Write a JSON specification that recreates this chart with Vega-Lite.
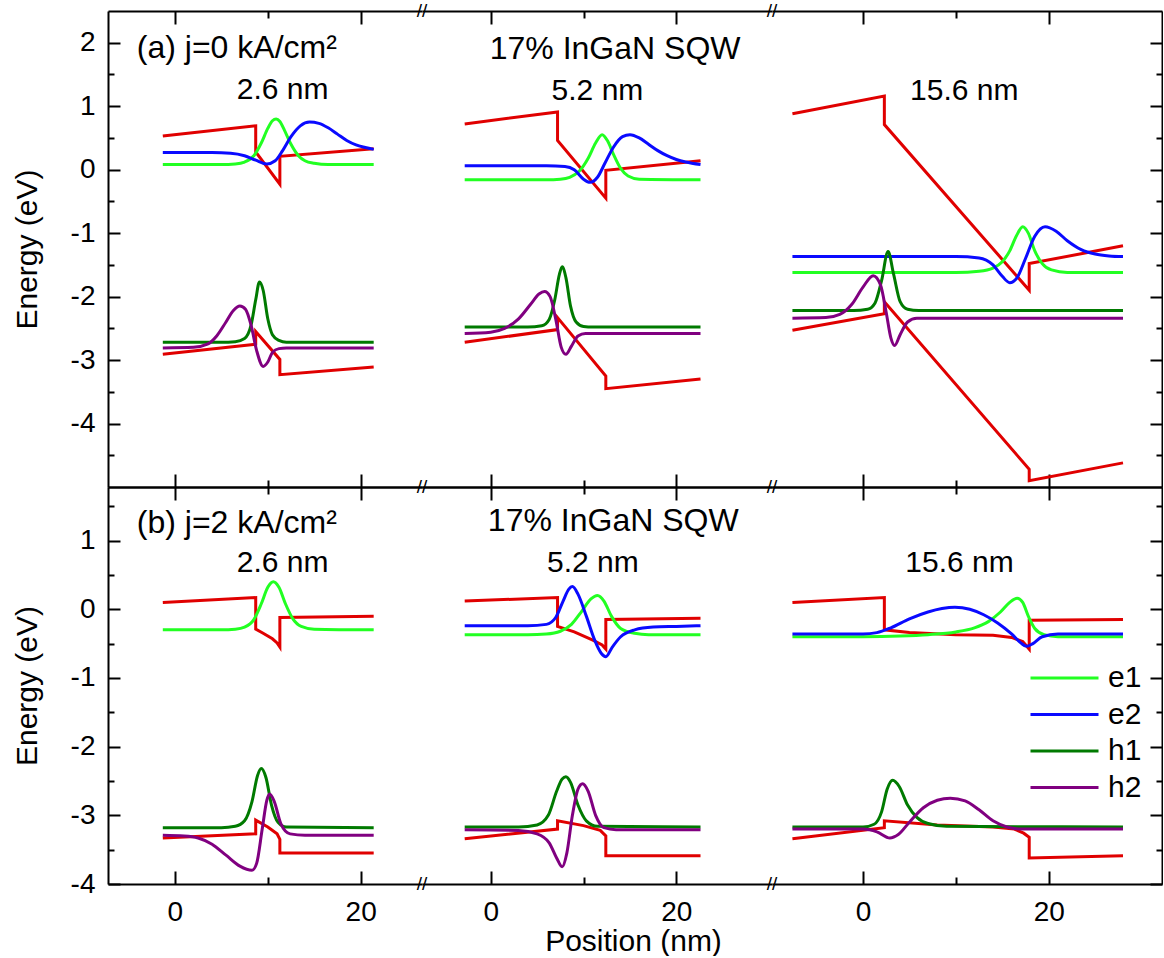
{
"$schema":"https://vega.github.io/schema/vega-lite/v6.json",
"padding":{"left":12,"top":2,"right":0,"bottom":0},
"bounds":"flush",
"spacing":0,
"columns":3,
"config":{"font":"Liberation Sans","view":{"stroke":null},
"axis":{"domainColor":"black","domainWidth":2,"tickColor":"black","tickWidth":2,"labelFontSize":28,"labelColor":"black","titleFontSize":30,"titleFontWeight":"normal","titleColor":"black","grid":false,"labelFont":"Liberation Sans","titleFont":"Liberation Sans","labelFlush":false},
"text":{"color":"black","font":"Liberation Sans"}},
"datasets":{
"c":[
{"p":"A1","s":"CB","x":-1.3,"y":0.53},{"p":"A1","s":"CB","x":8.7,"y":0.69},{"p":"A1","s":"CB","x":8.7,"y":0.28},{"p":"A1","s":"CB","x":11.3,"y":-0.23},{"p":"A1","s":"CB","x":11.3,"y":0.21},{"p":"A1","s":"CB","x":21.4,"y":0.33},
{"p":"A1","s":"VB","x":-1.3,"y":-2.91},{"p":"A1","s":"VB","x":8.7,"y":-2.75},{"p":"A1","s":"VB","x":8.7,"y":-2.55},{"p":"A1","s":"VB","x":11.3,"y":-2.99},{"p":"A1","s":"VB","x":11.3,"y":-3.23},{"p":"A1","s":"VB","x":21.4,"y":-3.11},
{"p":"A1","s":"e1","x":-1.3,"y":0.08},{"p":"A1","s":"e1","x":5,"y":0.08},{"p":"A1","s":"e1","x":6.5,"y":0.09},{"p":"A1","s":"e1","x":7.5,"y":0.12},{"p":"A1","s":"e1","x":8.5,"y":0.22},{"p":"A1","s":"e1","x":9.3,"y":0.42},{"p":"A1","s":"e1","x":10,"y":0.65},{"p":"A1","s":"e1","x":10.5,"y":0.77},{"p":"A1","s":"e1","x":10.9,"y":0.8},{"p":"A1","s":"e1","x":11.3,"y":0.76},{"p":"A1","s":"e1","x":11.8,"y":0.62},{"p":"A1","s":"e1","x":12.5,"y":0.4},{"p":"A1","s":"e1","x":13.3,"y":0.22},{"p":"A1","s":"e1","x":14,"y":0.14},{"p":"A1","s":"e1","x":15,"y":0.1},{"p":"A1","s":"e1","x":16.5,"y":0.08},{"p":"A1","s":"e1","x":21.4,"y":0.08},
{"p":"A1","s":"e2","x":-1.3,"y":0.27},{"p":"A1","s":"e2","x":4,"y":0.27},{"p":"A1","s":"e2","x":6,"y":0.26},{"p":"A1","s":"e2","x":7.5,"y":0.22},{"p":"A1","s":"e2","x":8.7,"y":0.15},{"p":"A1","s":"e2","x":9.9,"y":0.09},{"p":"A1","s":"e2","x":10.8,"y":0.14},{"p":"A1","s":"e2","x":11.6,"y":0.3},{"p":"A1","s":"e2","x":12.5,"y":0.52},{"p":"A1","s":"e2","x":13.5,"y":0.69},{"p":"A1","s":"e2","x":14.5,"y":0.75},{"p":"A1","s":"e2","x":15.5,"y":0.73},{"p":"A1","s":"e2","x":16.5,"y":0.66},{"p":"A1","s":"e2","x":17.5,"y":0.56},{"p":"A1","s":"e2","x":18.5,"y":0.46},{"p":"A1","s":"e2","x":19.5,"y":0.39},{"p":"A1","s":"e2","x":20.5,"y":0.35},{"p":"A1","s":"e2","x":21.4,"y":0.32},
{"p":"A1","s":"h1","x":-1.3,"y":-2.72},{"p":"A1","s":"h1","x":5,"y":-2.72},{"p":"A1","s":"h1","x":6.5,"y":-2.71},{"p":"A1","s":"h1","x":7.5,"y":-2.66},{"p":"A1","s":"h1","x":8.2,"y":-2.45},{"p":"A1","s":"h1","x":8.7,"y":-2.05},{"p":"A1","s":"h1","x":9.1,"y":-1.77},{"p":"A1","s":"h1","x":9.5,"y":-1.9},{"p":"A1","s":"h1","x":10,"y":-2.35},{"p":"A1","s":"h1","x":10.5,"y":-2.6},{"p":"A1","s":"h1","x":11.2,"y":-2.69},{"p":"A1","s":"h1","x":12,"y":-2.72},{"p":"A1","s":"h1","x":21.4,"y":-2.72},
{"p":"A1","s":"h2","x":-1.3,"y":-2.81},{"p":"A1","s":"h2","x":2,"y":-2.8},{"p":"A1","s":"h2","x":3.5,"y":-2.75},{"p":"A1","s":"h2","x":4.5,"y":-2.62},{"p":"A1","s":"h2","x":5.5,"y":-2.4},{"p":"A1","s":"h2","x":6.3,"y":-2.22},{"p":"A1","s":"h2","x":7,"y":-2.15},{"p":"A1","s":"h2","x":7.6,"y":-2.2},{"p":"A1","s":"h2","x":8.2,"y":-2.45},{"p":"A1","s":"h2","x":8.8,"y":-2.85},{"p":"A1","s":"h2","x":9.5,"y":-3.1},{"p":"A1","s":"h2","x":10,"y":-3.03},{"p":"A1","s":"h2","x":10.5,"y":-2.88},{"p":"A1","s":"h2","x":11.2,"y":-2.82},{"p":"A1","s":"h2","x":12,"y":-2.81},{"p":"A1","s":"h2","x":21.4,"y":-2.81},

{"p":"A2","s":"CB","x":-2.8,"y":0.72},{"p":"A2","s":"CB","x":7.2,"y":0.91},{"p":"A2","s":"CB","x":7.2,"y":0.46},{"p":"A2","s":"CB","x":12.4,"y":-0.45},{"p":"A2","s":"CB","x":12.4,"y":-0.01},{"p":"A2","s":"CB","x":22.6,"y":0.14},
{"p":"A2","s":"VB","x":-2.8,"y":-2.72},{"p":"A2","s":"VB","x":7.2,"y":-2.52},{"p":"A2","s":"VB","x":7.2,"y":-2.33},{"p":"A2","s":"VB","x":12.4,"y":-3.25},{"p":"A2","s":"VB","x":12.4,"y":-3.45},{"p":"A2","s":"VB","x":22.6,"y":-3.3},
{"p":"A2","s":"e1","x":-2.8,"y":-0.16},{"p":"A2","s":"e1","x":6,"y":-0.16},{"p":"A2","s":"e1","x":7.5,"y":-0.15},{"p":"A2","s":"e1","x":8.5,"y":-0.12},{"p":"A2","s":"e1","x":9.5,"y":-0.03},{"p":"A2","s":"e1","x":10.5,"y":0.18},{"p":"A2","s":"e1","x":11.3,"y":0.42},{"p":"A2","s":"e1","x":12,"y":0.55},{"p":"A2","s":"e1","x":12.6,"y":0.45},{"p":"A2","s":"e1","x":13.2,"y":0.25},{"p":"A2","s":"e1","x":14,"y":0.02},{"p":"A2","s":"e1","x":14.8,"y":-0.1},{"p":"A2","s":"e1","x":16,"y":-0.15},{"p":"A2","s":"e1","x":22.6,"y":-0.16},
{"p":"A2","s":"e2","x":-2.8,"y":0.06},{"p":"A2","s":"e2","x":6,"y":0.06},{"p":"A2","s":"e2","x":8,"y":0.05},{"p":"A2","s":"e2","x":9,"y":0.0},{"p":"A2","s":"e2","x":10,"y":-0.15},{"p":"A2","s":"e2","x":10.7,"y":-0.2},{"p":"A2","s":"e2","x":11.5,"y":-0.12},{"p":"A2","s":"e2","x":12.3,"y":0.1},{"p":"A2","s":"e2","x":13.2,"y":0.35},{"p":"A2","s":"e2","x":14.2,"y":0.52},{"p":"A2","s":"e2","x":15,"y":0.55},{"p":"A2","s":"e2","x":16,"y":0.5},{"p":"A2","s":"e2","x":17,"y":0.4},{"p":"A2","s":"e2","x":18,"y":0.3},{"p":"A2","s":"e2","x":19,"y":0.22},{"p":"A2","s":"e2","x":20,"y":0.16},{"p":"A2","s":"e2","x":21,"y":0.12},{"p":"A2","s":"e2","x":22.6,"y":0.08},
{"p":"A2","s":"h1","x":-2.8,"y":-2.48},{"p":"A2","s":"h1","x":4,"y":-2.48},{"p":"A2","s":"h1","x":5.5,"y":-2.46},{"p":"A2","s":"h1","x":6.3,"y":-2.36},{"p":"A2","s":"h1","x":6.9,"y":-2.05},{"p":"A2","s":"h1","x":7.4,"y":-1.65},{"p":"A2","s":"h1","x":7.7,"y":-1.53},{"p":"A2","s":"h1","x":8.1,"y":-1.7},{"p":"A2","s":"h1","x":8.6,"y":-2.15},{"p":"A2","s":"h1","x":9.2,"y":-2.4},{"p":"A2","s":"h1","x":10,"y":-2.47},{"p":"A2","s":"h1","x":11,"y":-2.48},{"p":"A2","s":"h1","x":22.6,"y":-2.48},
{"p":"A2","s":"h2","x":-2.8,"y":-2.58},{"p":"A2","s":"h2","x":0,"y":-2.56},{"p":"A2","s":"h2","x":1.5,"y":-2.5},{"p":"A2","s":"h2","x":3,"y":-2.35},{"p":"A2","s":"h2","x":4.3,"y":-2.12},{"p":"A2","s":"h2","x":5.2,"y":-1.96},{"p":"A2","s":"h2","x":5.8,"y":-1.92},{"p":"A2","s":"h2","x":6.4,"y":-2.0},{"p":"A2","s":"h2","x":7,"y":-2.35},{"p":"A2","s":"h2","x":7.6,"y":-2.8},{"p":"A2","s":"h2","x":8.1,"y":-2.91},{"p":"A2","s":"h2","x":8.7,"y":-2.78},{"p":"A2","s":"h2","x":9.4,"y":-2.62},{"p":"A2","s":"h2","x":10.2,"y":-2.58},{"p":"A2","s":"h2","x":22.6,"y":-2.58},

{"p":"A3","s":"CB","x":-7.6,"y":0.88},{"p":"A3","s":"CB","x":2.3,"y":1.16},{"p":"A3","s":"CB","x":2.3,"y":0.71},{"p":"A3","s":"CB","x":17.9,"y":-1.9},{"p":"A3","s":"CB","x":17.9,"y":-1.48},{"p":"A3","s":"CB","x":28,"y":-1.2},
{"p":"A3","s":"VB","x":-7.6,"y":-2.53},{"p":"A3","s":"VB","x":2.3,"y":-2.27},{"p":"A3","s":"VB","x":2.3,"y":-2.08},{"p":"A3","s":"VB","x":17.9,"y":-4.72},{"p":"A3","s":"VB","x":17.9,"y":-4.9},{"p":"A3","s":"VB","x":28,"y":-4.62},
{"p":"A3","s":"e1","x":-7.6,"y":-1.62},{"p":"A3","s":"e1","x":10,"y":-1.62},{"p":"A3","s":"e1","x":12.5,"y":-1.6},{"p":"A3","s":"e1","x":14,"y":-1.55},{"p":"A3","s":"e1","x":15,"y":-1.45},{"p":"A3","s":"e1","x":15.8,"y":-1.28},{"p":"A3","s":"e1","x":16.5,"y":-1.05},{"p":"A3","s":"e1","x":17.2,"y":-0.9},{"p":"A3","s":"e1","x":17.8,"y":-1.0},{"p":"A3","s":"e1","x":18.5,"y":-1.28},{"p":"A3","s":"e1","x":19.3,"y":-1.48},{"p":"A3","s":"e1","x":20.3,"y":-1.58},{"p":"A3","s":"e1","x":22,"y":-1.62},{"p":"A3","s":"e1","x":28,"y":-1.62},
{"p":"A3","s":"e2","x":-7.6,"y":-1.37},{"p":"A3","s":"e2","x":10,"y":-1.37},{"p":"A3","s":"e2","x":12.5,"y":-1.39},{"p":"A3","s":"e2","x":14,"y":-1.5},{"p":"A3","s":"e2","x":15,"y":-1.68},{"p":"A3","s":"e2","x":15.8,"y":-1.78},{"p":"A3","s":"e2","x":16.6,"y":-1.7},{"p":"A3","s":"e2","x":17.5,"y":-1.4},{"p":"A3","s":"e2","x":18.5,"y":-1.05},{"p":"A3","s":"e2","x":19.6,"y":-0.9},{"p":"A3","s":"e2","x":20.8,"y":-0.97},{"p":"A3","s":"e2","x":22,"y":-1.12},{"p":"A3","s":"e2","x":23.5,"y":-1.26},{"p":"A3","s":"e2","x":25,"y":-1.33},{"p":"A3","s":"e2","x":26.5,"y":-1.36},{"p":"A3","s":"e2","x":28,"y":-1.37},
{"p":"A3","s":"h1","x":-7.6,"y":-2.22},{"p":"A3","s":"h1","x":-1,"y":-2.22},{"p":"A3","s":"h1","x":0.5,"y":-2.2},{"p":"A3","s":"h1","x":1.3,"y":-2.1},{"p":"A3","s":"h1","x":2,"y":-1.75},{"p":"A3","s":"h1","x":2.7,"y":-1.29},{"p":"A3","s":"h1","x":3.3,"y":-1.65},{"p":"A3","s":"h1","x":4,"y":-2.08},{"p":"A3","s":"h1","x":4.8,"y":-2.2},{"p":"A3","s":"h1","x":6,"y":-2.22},{"p":"A3","s":"h1","x":28,"y":-2.22},
{"p":"A3","s":"h2","x":-7.6,"y":-2.34},{"p":"A3","s":"h2","x":-4,"y":-2.33},{"p":"A3","s":"h2","x":-2.5,"y":-2.28},{"p":"A3","s":"h2","x":-1.2,"y":-2.12},{"p":"A3","s":"h2","x":0,"y":-1.85},{"p":"A3","s":"h2","x":1.1,"y":-1.67},{"p":"A3","s":"h2","x":1.9,"y":-1.82},{"p":"A3","s":"h2","x":2.5,"y":-2.25},{"p":"A3","s":"h2","x":3,"y":-2.65},{"p":"A3","s":"h2","x":3.4,"y":-2.77},{"p":"A3","s":"h2","x":4,"y":-2.6},{"p":"A3","s":"h2","x":4.8,"y":-2.4},{"p":"A3","s":"h2","x":5.8,"y":-2.34},{"p":"A3","s":"h2","x":28,"y":-2.34},

{"p":"B1","s":"CB","x":-1.3,"y":0.1},{"p":"B1","s":"CB","x":8.7,"y":0.17},{"p":"B1","s":"CB","x":8.7,"y":-0.29},{"p":"B1","s":"CB","x":9.5,"y":-0.35},{"p":"B1","s":"CB","x":10.5,"y":-0.43},{"p":"B1","s":"CB","x":11,"y":-0.49},{"p":"B1","s":"CB","x":11.3,"y":-0.55},{"p":"B1","s":"CB","x":11.3,"y":-0.12},{"p":"B1","s":"CB","x":21.4,"y":-0.1},
{"p":"B1","s":"VB","x":-1.3,"y":-3.33},{"p":"B1","s":"VB","x":8.7,"y":-3.27},{"p":"B1","s":"VB","x":8.7,"y":-3.07},{"p":"B1","s":"VB","x":10,"y":-3.17},{"p":"B1","s":"VB","x":11,"y":-3.27},{"p":"B1","s":"VB","x":11.3,"y":-3.35},{"p":"B1","s":"VB","x":11.3,"y":-3.55},{"p":"B1","s":"VB","x":21.4,"y":-3.55},
{"p":"B1","s":"e1","x":-1.3,"y":-0.3},{"p":"B1","s":"e1","x":5,"y":-0.3},{"p":"B1","s":"e1","x":6.5,"y":-0.29},{"p":"B1","s":"e1","x":7.5,"y":-0.26},{"p":"B1","s":"e1","x":8.5,"y":-0.15},{"p":"B1","s":"e1","x":9.3,"y":0.08},{"p":"B1","s":"e1","x":10,"y":0.32},{"p":"B1","s":"e1","x":10.6,"y":0.4},{"p":"B1","s":"e1","x":11.2,"y":0.32},{"p":"B1","s":"e1","x":11.9,"y":0.08},{"p":"B1","s":"e1","x":12.7,"y":-0.14},{"p":"B1","s":"e1","x":13.6,"y":-0.25},{"p":"B1","s":"e1","x":15,"y":-0.29},{"p":"B1","s":"e1","x":21.4,"y":-0.3},
{"p":"B1","s":"h1","x":-1.3,"y":-3.18},{"p":"B1","s":"h1","x":5,"y":-3.18},{"p":"B1","s":"h1","x":6.5,"y":-3.16},{"p":"B1","s":"h1","x":7.5,"y":-3.08},{"p":"B1","s":"h1","x":8.3,"y":-2.8},{"p":"B1","s":"h1","x":8.9,"y":-2.42},{"p":"B1","s":"h1","x":9.3,"y":-2.32},{"p":"B1","s":"h1","x":9.8,"y":-2.45},{"p":"B1","s":"h1","x":10.4,"y":-2.85},{"p":"B1","s":"h1","x":11.1,"y":-3.1},{"p":"B1","s":"h1","x":12,"y":-3.17},{"p":"B1","s":"h1","x":21.4,"y":-3.18},
{"p":"B1","s":"h2","x":-1.3,"y":-3.29},{"p":"B1","s":"h2","x":1,"y":-3.3},{"p":"B1","s":"h2","x":2.5,"y":-3.33},{"p":"B1","s":"h2","x":4,"y":-3.42},{"p":"B1","s":"h2","x":5.5,"y":-3.58},{"p":"B1","s":"h2","x":7,"y":-3.74},{"p":"B1","s":"h2","x":8.3,"y":-3.8},{"p":"B1","s":"h2","x":8.8,"y":-3.7},{"p":"B1","s":"h2","x":9.4,"y":-3.2},{"p":"B1","s":"h2","x":9.9,"y":-2.78},{"p":"B1","s":"h2","x":10.2,"y":-2.69},{"p":"B1","s":"h2","x":10.7,"y":-2.8},{"p":"B1","s":"h2","x":11.4,"y":-3.12},{"p":"B1","s":"h2","x":12.4,"y":-3.27},{"p":"B1","s":"h2","x":14,"y":-3.29},{"p":"B1","s":"h2","x":21.4,"y":-3.29},

{"p":"B2","s":"CB","x":-2.8,"y":0.12},{"p":"B2","s":"CB","x":7.2,"y":0.17},{"p":"B2","s":"CB","x":7.2,"y":-0.25},{"p":"B2","s":"CB","x":9,"y":-0.33},{"p":"B2","s":"CB","x":11,"y":-0.45},{"p":"B2","s":"CB","x":12,"y":-0.52},{"p":"B2","s":"CB","x":12.4,"y":-0.58},{"p":"B2","s":"CB","x":12.4,"y":-0.15},{"p":"B2","s":"CB","x":22.6,"y":-0.13},
{"p":"B2","s":"VB","x":-2.8,"y":-3.34},{"p":"B2","s":"VB","x":7.2,"y":-3.2},{"p":"B2","s":"VB","x":7.2,"y":-3.08},{"p":"B2","s":"VB","x":10,"y":-3.15},{"p":"B2","s":"VB","x":11.8,"y":-3.22},{"p":"B2","s":"VB","x":12.4,"y":-3.3},{"p":"B2","s":"VB","x":12.4,"y":-3.59},{"p":"B2","s":"VB","x":22.6,"y":-3.59},
{"p":"B2","s":"e1","x":-2.8,"y":-0.37},{"p":"B2","s":"e1","x":4,"y":-0.37},{"p":"B2","s":"e1","x":6,"y":-0.36},{"p":"B2","s":"e1","x":7.5,"y":-0.32},{"p":"B2","s":"e1","x":8.7,"y":-0.22},{"p":"B2","s":"e1","x":9.8,"y":-0.03},{"p":"B2","s":"e1","x":10.8,"y":0.15},{"p":"B2","s":"e1","x":11.5,"y":0.2},{"p":"B2","s":"e1","x":12.2,"y":0.12},{"p":"B2","s":"e1","x":13,"y":-0.1},{"p":"B2","s":"e1","x":14,"y":-0.28},{"p":"B2","s":"e1","x":15.5,"y":-0.35},{"p":"B2","s":"e1","x":17,"y":-0.37},{"p":"B2","s":"e1","x":22.6,"y":-0.37},
{"p":"B2","s":"e2","x":-2.8,"y":-0.24},{"p":"B2","s":"e2","x":4,"y":-0.24},{"p":"B2","s":"e2","x":6,"y":-0.22},{"p":"B2","s":"e2","x":7,"y":-0.12},{"p":"B2","s":"e2","x":7.8,"y":0.12},{"p":"B2","s":"e2","x":8.4,"y":0.29},{"p":"B2","s":"e2","x":8.8,"y":0.33},{"p":"B2","s":"e2","x":9.4,"y":0.22},{"p":"B2","s":"e2","x":10.3,"y":-0.1},{"p":"B2","s":"e2","x":11.2,"y":-0.45},{"p":"B2","s":"e2","x":11.9,"y":-0.64},{"p":"B2","s":"e2","x":12.4,"y":-0.69},{"p":"B2","s":"e2","x":13.1,"y":-0.55},{"p":"B2","s":"e2","x":14,"y":-0.4},{"p":"B2","s":"e2","x":15.5,"y":-0.3},{"p":"B2","s":"e2","x":17.5,"y":-0.26},{"p":"B2","s":"e2","x":20,"y":-0.25},{"p":"B2","s":"e2","x":22.6,"y":-0.24},
{"p":"B2","s":"h1","x":-2.8,"y":-3.17},{"p":"B2","s":"h1","x":3,"y":-3.17},{"p":"B2","s":"h1","x":5,"y":-3.14},{"p":"B2","s":"h1","x":6.2,"y":-3.0},{"p":"B2","s":"h1","x":7.1,"y":-2.65},{"p":"B2","s":"h1","x":7.7,"y":-2.47},{"p":"B2","s":"h1","x":8.1,"y":-2.44},{"p":"B2","s":"h1","x":8.6,"y":-2.52},{"p":"B2","s":"h1","x":9.4,"y":-2.85},{"p":"B2","s":"h1","x":10.3,"y":-3.08},{"p":"B2","s":"h1","x":11.5,"y":-3.16},{"p":"B2","s":"h1","x":22.6,"y":-3.17},
{"p":"B2","s":"h2","x":-2.8,"y":-3.21},{"p":"B2","s":"h2","x":3,"y":-3.22},{"p":"B2","s":"h2","x":5,"y":-3.27},{"p":"B2","s":"h2","x":6.3,"y":-3.4},{"p":"B2","s":"h2","x":7.1,"y":-3.62},{"p":"B2","s":"h2","x":7.7,"y":-3.75},{"p":"B2","s":"h2","x":8.2,"y":-3.55},{"p":"B2","s":"h2","x":8.8,"y":-3.0},{"p":"B2","s":"h2","x":9.4,"y":-2.62},{"p":"B2","s":"h2","x":9.9,"y":-2.54},{"p":"B2","s":"h2","x":10.5,"y":-2.65},{"p":"B2","s":"h2","x":11.3,"y":-3.0},{"p":"B2","s":"h2","x":12.2,"y":-3.18},{"p":"B2","s":"h2","x":13.5,"y":-3.21},{"p":"B2","s":"h2","x":22.6,"y":-3.21},

{"p":"B3","s":"CB","x":-7.6,"y":0.1},{"p":"B3","s":"CB","x":2.3,"y":0.17},{"p":"B3","s":"CB","x":2.3,"y":-0.3},{"p":"B3","s":"CB","x":5,"y":-0.34},{"p":"B3","s":"CB","x":10,"y":-0.37},{"p":"B3","s":"CB","x":14,"y":-0.38},{"p":"B3","s":"CB","x":16,"y":-0.41},{"p":"B3","s":"CB","x":17.2,"y":-0.47},{"p":"B3","s":"CB","x":17.9,"y":-0.58},{"p":"B3","s":"CB","x":17.9,"y":-0.16},{"p":"B3","s":"CB","x":28,"y":-0.15},
{"p":"B3","s":"VB","x":-7.6,"y":-3.34},{"p":"B3","s":"VB","x":2.3,"y":-3.18},{"p":"B3","s":"VB","x":2.3,"y":-3.08},{"p":"B3","s":"VB","x":8,"y":-3.14},{"p":"B3","s":"VB","x":14,"y":-3.17},{"p":"B3","s":"VB","x":16.3,"y":-3.2},{"p":"B3","s":"VB","x":17.3,"y":-3.26},{"p":"B3","s":"VB","x":17.9,"y":-3.32},{"p":"B3","s":"VB","x":17.9,"y":-3.62},{"p":"B3","s":"VB","x":28,"y":-3.59},
{"p":"B3","s":"e1","x":-7.6,"y":-0.4},{"p":"B3","s":"e1","x":0,"y":-0.4},{"p":"B3","s":"e1","x":4,"y":-0.39},{"p":"B3","s":"e1","x":7,"y":-0.37},{"p":"B3","s":"e1","x":10,"y":-0.33},{"p":"B3","s":"e1","x":12,"y":-0.27},{"p":"B3","s":"e1","x":13.5,"y":-0.18},{"p":"B3","s":"e1","x":14.8,"y":-0.04},{"p":"B3","s":"e1","x":15.8,"y":0.1},{"p":"B3","s":"e1","x":16.6,"y":0.16},{"p":"B3","s":"e1","x":17.2,"y":0.1},{"p":"B3","s":"e1","x":17.8,"y":-0.1},{"p":"B3","s":"e1","x":18.5,"y":-0.28},{"p":"B3","s":"e1","x":19.5,"y":-0.37},{"p":"B3","s":"e1","x":21,"y":-0.4},{"p":"B3","s":"e1","x":28,"y":-0.4},
{"p":"B3","s":"e2","x":-7.6,"y":-0.36},{"p":"B3","s":"e2","x":0,"y":-0.36},{"p":"B3","s":"e2","x":1.5,"y":-0.34},{"p":"B3","s":"e2","x":3,"y":-0.27},{"p":"B3","s":"e2","x":5,"y":-0.14},{"p":"B3","s":"e2","x":7,"y":-0.04},{"p":"B3","s":"e2","x":8.5,"y":0.01},{"p":"B3","s":"e2","x":9.9,"y":0.03},{"p":"B3","s":"e2","x":11.5,"y":0.0},{"p":"B3","s":"e2","x":13,"y":-0.08},{"p":"B3","s":"e2","x":14.5,"y":-0.2},{"p":"B3","s":"e2","x":16,"y":-0.36},{"p":"B3","s":"e2","x":17,"y":-0.49},{"p":"B3","s":"e2","x":17.6,"y":-0.54},{"p":"B3","s":"e2","x":18.3,"y":-0.5},{"p":"B3","s":"e2","x":19.3,"y":-0.4},{"p":"B3","s":"e2","x":21,"y":-0.36},{"p":"B3","s":"e2","x":28,"y":-0.36},
{"p":"B3","s":"h1","x":-7.6,"y":-3.17},{"p":"B3","s":"h1","x":0,"y":-3.17},{"p":"B3","s":"h1","x":1.2,"y":-3.13},{"p":"B3","s":"h1","x":2,"y":-2.95},{"p":"B3","s":"h1","x":2.6,"y":-2.62},{"p":"B3","s":"h1","x":3.2,"y":-2.49},{"p":"B3","s":"h1","x":3.9,"y":-2.58},{"p":"B3","s":"h1","x":4.8,"y":-2.85},{"p":"B3","s":"h1","x":5.8,"y":-3.03},{"p":"B3","s":"h1","x":7,"y":-3.12},{"p":"B3","s":"h1","x":9,"y":-3.16},{"p":"B3","s":"h1","x":28,"y":-3.17},
{"p":"B3","s":"h2","x":-7.6,"y":-3.2},{"p":"B3","s":"h2","x":0,"y":-3.2},{"p":"B3","s":"h2","x":1.5,"y":-3.24},{"p":"B3","s":"h2","x":2.9,"y":-3.33},{"p":"B3","s":"h2","x":3.8,"y":-3.28},{"p":"B3","s":"h2","x":5,"y":-3.1},{"p":"B3","s":"h2","x":6.5,"y":-2.89},{"p":"B3","s":"h2","x":8,"y":-2.78},{"p":"B3","s":"h2","x":9.4,"y":-2.75},{"p":"B3","s":"h2","x":11,"y":-2.79},{"p":"B3","s":"h2","x":12.5,"y":-2.92},{"p":"B3","s":"h2","x":14,"y":-3.08},{"p":"B3","s":"h2","x":15.5,"y":-3.17},{"p":"B3","s":"h2","x":17,"y":-3.2},{"p":"B3","s":"h2","x":28,"y":-3.2}
],
"n":[
{"p":"A1","k":"head","x":-4.1,"y":1.92,"t":"(a) j=0 kA/cm²"},
{"p":"A2","k":"mid","x":13.4,"y":1.9,"t":"17% InGaN SQW"},
{"p":"A1","k":"w","x":11.6,"y":1.25,"t":"2.6 nm"},
{"p":"A2","k":"w","x":11.5,"y":1.24,"t":"5.2 nm"},
{"p":"A3","k":"w","x":10.9,"y":1.24,"t":"15.6 nm"},
{"p":"A1","k":"brk","x":26.6,"y":2.5,"t":"//"},
{"p":"A1","k":"brk","x":26.6,"y":-5,"t":"//"},
{"p":"A2","k":"brk","x":30.3,"y":2.5,"t":"//"},
{"p":"A2","k":"brk","x":30.3,"y":-5,"t":"//"},
{"p":"B1","k":"head","x":-4.1,"y":1.25,"t":"(b) j=2 kA/cm²"},
{"p":"B2","k":"mid","x":13.2,"y":1.28,"t":"17% InGaN SQW"},
{"p":"B1","k":"w","x":11.6,"y":0.68,"t":"2.6 nm"},
{"p":"B2","k":"w","x":11.0,"y":0.68,"t":"5.2 nm"},
{"p":"B3","k":"w","x":10.4,"y":0.68,"t":"15.6 nm"},
{"p":"B1","k":"brk","x":26.6,"y":-4,"t":"//"},
{"p":"B2","k":"brk","x":30.3,"y":-4,"t":"//"}
]},
"data":{"name":"c"},
"concat":[
{"width":314,"height":476,
"encoding":{"y":{"field":"y","type":"quantitative","scale":{"domain":[-5,2.5],"nice":false,"zero":false},"axis":{"orient":"left","values":[-4.5,-4,-3.5,-3,-2.5,-2,-1.5,-1,-0.5,0,0.5,1,1.5,2],"labelExpr":"datum.value % 1 === 0 ? '' + datum.value : ''","tickSize":{"condition":{"test":"datum.value % 1 !== 0","value":-6},"value":-12},"labelPadding":25,"title":"Energy (eV)","titleX":-81,"titleBaseline":"middle"}}},
"layer":[
{"transform":[{"filter":"datum.p==='A1' && (datum.s==='CB' || datum.s==='VB')"}],"mark":{"type":"line","strokeWidth":3},
"encoding":{"x":{"field":"x","type":"quantitative","scale":{"domain":[-7.2,26.6],"nice":false,"zero":false},"axis":{"orient":"bottom","values":[0,10,20],"labels":false,"title":null,"tickSize":{"condition":{"test":"datum.value===10","value":-7},"value":-13}}},
"color":{"field":"s","type":"nominal","scale":{"domain":["e1","e2","h1","h2","CB","VB"],"range":["#22ff22","#0a0aff","#007a00","#800080","#e00000","#e00000"]},"legend":{"values":["e1","e2","h1","h2"],"title":null,"orient":"none","legendX":921,"legendY":652,"symbolType":"stroke","symbolSize":4624,"symbolStrokeWidth":3,"labelFontSize":30,"labelOffset":8,"clipHeight":30,"rowPadding":6.5,"padding":0,"labelFont":"Liberation Sans","labelColor":"black"}},"order":{"value":null}}},
{"transform":[{"filter":"datum.p==='A1' && datum.s!=='CB' && datum.s!=='VB'"}],"mark":{"type":"line","strokeWidth":3,"interpolate":"monotone"},
"encoding":{"x":{"field":"x","type":"quantitative","scale":{"domain":[-7.2,26.6],"nice":false,"zero":false},"axis":{"orient":"top","values":[0,10,20],"labels":false,"title":null,"tickSize":{"condition":{"test":"datum.value===10","value":-7},"value":-13}}},
"color":{"field":"s","type":"nominal","scale":{"domain":["e1","e2","h1","h2","CB","VB"],"range":["#22ff22","#0a0aff","#007a00","#800080","#e00000","#e00000"]},"legend":{"values":["e1","e2","h1","h2"],"title":null,"orient":"none","legendX":921,"legendY":652,"symbolType":"stroke","symbolSize":4624,"symbolStrokeWidth":3,"labelFontSize":30,"labelOffset":8,"clipHeight":30,"rowPadding":6.5,"padding":0,"labelFont":"Liberation Sans","labelColor":"black"}},"order":{"value":null}}},
{"data":{"name":"n"},"transform":[{"filter":"datum.p==='A1' && datum.k==='head'"}],"mark":{"type":"text","align":"left","baseline":"middle","fontSize":32},
"encoding":{"x":{"field":"x","type":"quantitative","scale":{"domain":[-7.2,26.6],"nice":false,"zero":false},"axis":null},"text":{"field":"t"}}},
{"data":{"name":"n"},"transform":[{"filter":"datum.p==='A1' && (datum.k==='mid' || datum.k==='w')"}],"mark":{"type":"text","align":"center","baseline":"middle"},
"encoding":{"x":{"field":"x","type":"quantitative","scale":{"domain":[-7.2,26.6],"nice":false,"zero":false},"axis":null},"text":{"field":"t"},"size":{"condition":{"test":"datum.k==='w'","value":30},"value":32}}},
{"data":{"name":"n"},"transform":[{"filter":"datum.p==='A1' && datum.k==='brk'"}],"mark":{"type":"text","align":"center","baseline":"middle","fontSize":19},
"encoding":{"x":{"field":"x","type":"quantitative","scale":{"domain":[-7.2,26.6],"nice":false,"zero":false},"axis":null},"text":{"field":"t"}}}
],
"resolve":{"axis":{"x":"independent"}}},

{"width":350,"height":476,
"encoding":{"y":{"field":"y","type":"quantitative","scale":{"domain":[-5,2.5],"nice":false,"zero":false},"axis":null}},
"layer":[
{"transform":[{"filter":"datum.p==='A2' && (datum.s==='CB' || datum.s==='VB')"}],"mark":{"type":"line","strokeWidth":3},
"encoding":{"x":{"field":"x","type":"quantitative","scale":{"domain":[-7.4,30.3],"nice":false,"zero":false},"axis":{"orient":"bottom","values":[0,10,20],"labels":false,"title":null,"tickSize":{"condition":{"test":"datum.value===10","value":-7},"value":-13}}},
"color":{"field":"s","type":"nominal","scale":{"domain":["e1","e2","h1","h2","CB","VB"],"range":["#22ff22","#0a0aff","#007a00","#800080","#e00000","#e00000"]},"legend":{"values":["e1","e2","h1","h2"],"title":null,"orient":"none","legendX":921,"legendY":652,"symbolType":"stroke","symbolSize":4624,"symbolStrokeWidth":3,"labelFontSize":30,"labelOffset":8,"clipHeight":30,"rowPadding":6.5,"padding":0,"labelFont":"Liberation Sans","labelColor":"black"}},"order":{"value":null}}},
{"transform":[{"filter":"datum.p==='A2' && datum.s!=='CB' && datum.s!=='VB'"}],"mark":{"type":"line","strokeWidth":3,"interpolate":"monotone"},
"encoding":{"x":{"field":"x","type":"quantitative","scale":{"domain":[-7.4,30.3],"nice":false,"zero":false},"axis":{"orient":"top","values":[0,10,20],"labels":false,"title":null,"tickSize":{"condition":{"test":"datum.value===10","value":-7},"value":-13}}},
"color":{"field":"s","type":"nominal","scale":{"domain":["e1","e2","h1","h2","CB","VB"],"range":["#22ff22","#0a0aff","#007a00","#800080","#e00000","#e00000"]},"legend":{"values":["e1","e2","h1","h2"],"title":null,"orient":"none","legendX":921,"legendY":652,"symbolType":"stroke","symbolSize":4624,"symbolStrokeWidth":3,"labelFontSize":30,"labelOffset":8,"clipHeight":30,"rowPadding":6.5,"padding":0,"labelFont":"Liberation Sans","labelColor":"black"}},"order":{"value":null}}},
{"data":{"name":"n"},"transform":[{"filter":"datum.p==='A2' && (datum.k==='mid' || datum.k==='w')"}],"mark":{"type":"text","align":"center","baseline":"middle"},
"encoding":{"x":{"field":"x","type":"quantitative","scale":{"domain":[-7.4,30.3],"nice":false,"zero":false},"axis":null},"text":{"field":"t"},"size":{"condition":{"test":"datum.k==='w'","value":30},"value":32}}},
{"data":{"name":"n"},"transform":[{"filter":"datum.p==='A2' && datum.k==='brk'"}],"mark":{"type":"text","align":"center","baseline":"middle","fontSize":19},
"encoding":{"x":{"field":"x","type":"quantitative","scale":{"domain":[-7.4,30.3],"nice":false,"zero":false},"axis":null},"text":{"field":"t"}}}
],
"resolve":{"axis":{"x":"independent"}}},

{"width":390,"height":476,
"encoding":{"y":{"field":"y","type":"quantitative","scale":{"domain":[-5,2.5],"nice":false,"zero":false},"axis":{"orient":"right","values":[-4.5,-4,-3.5,-3,-2.5,-2,-1.5,-1,-0.5,0,0.5,1,1.5,2],"labels":false,"tickSize":{"condition":{"test":"datum.value % 1 !== 0","value":-6},"value":-12},"title":null}}},
"layer":[
{"transform":[{"filter":"datum.p==='A3' && (datum.s==='CB' || datum.s==='VB')"}],"mark":{"type":"line","strokeWidth":3},
"encoding":{"x":{"field":"x","type":"quantitative","scale":{"domain":[-9.8,32.2],"nice":false,"zero":false},"axis":{"orient":"bottom","values":[0,10,20],"labels":false,"title":null,"tickSize":{"condition":{"test":"datum.value===10","value":-7},"value":-13}}},
"color":{"field":"s","type":"nominal","scale":{"domain":["e1","e2","h1","h2","CB","VB"],"range":["#22ff22","#0a0aff","#007a00","#800080","#e00000","#e00000"]},"legend":{"values":["e1","e2","h1","h2"],"title":null,"orient":"none","legendX":921,"legendY":652,"symbolType":"stroke","symbolSize":4624,"symbolStrokeWidth":3,"labelFontSize":30,"labelOffset":8,"clipHeight":30,"rowPadding":6.5,"padding":0,"labelFont":"Liberation Sans","labelColor":"black"}},"order":{"value":null}}},
{"transform":[{"filter":"datum.p==='A3' && datum.s!=='CB' && datum.s!=='VB'"}],"mark":{"type":"line","strokeWidth":3,"interpolate":"monotone"},
"encoding":{"x":{"field":"x","type":"quantitative","scale":{"domain":[-9.8,32.2],"nice":false,"zero":false},"axis":{"orient":"top","values":[0,10,20],"labels":false,"title":null,"tickSize":{"condition":{"test":"datum.value===10","value":-7},"value":-13}}},
"color":{"field":"s","type":"nominal","scale":{"domain":["e1","e2","h1","h2","CB","VB"],"range":["#22ff22","#0a0aff","#007a00","#800080","#e00000","#e00000"]},"legend":{"values":["e1","e2","h1","h2"],"title":null,"orient":"none","legendX":921,"legendY":652,"symbolType":"stroke","symbolSize":4624,"symbolStrokeWidth":3,"labelFontSize":30,"labelOffset":8,"clipHeight":30,"rowPadding":6.5,"padding":0,"labelFont":"Liberation Sans","labelColor":"black"}},"order":{"value":null}}},
{"data":{"name":"n"},"transform":[{"filter":"datum.p==='A3' && (datum.k==='mid' || datum.k==='w')"}],"mark":{"type":"text","align":"center","baseline":"middle"},
"encoding":{"x":{"field":"x","type":"quantitative","scale":{"domain":[-9.8,32.2],"nice":false,"zero":false},"axis":null},"text":{"field":"t"},"size":{"condition":{"test":"datum.k==='w'","value":30},"value":32}}}
],
"resolve":{"axis":{"x":"independent"}}},

{"width":314,"height":397,
"encoding":{"y":{"field":"y","type":"quantitative","scale":{"domain":[-4,1.78],"nice":false,"zero":false},"axis":{"orient":"left","values":[-4,-3.5,-3,-2.5,-2,-1.5,-1,-0.5,0,0.5,1,1.5],"labelExpr":"datum.value % 1 === 0 ? '' + datum.value : ''","tickSize":{"condition":{"test":"datum.value % 1 !== 0","value":-6},"value":-12},"labelPadding":25,"title":"Energy (eV)","titleX":-81,"titleBaseline":"middle"}}},
"layer":[
{"transform":[{"filter":"datum.p==='B1' && (datum.s==='CB' || datum.s==='VB')"}],"mark":{"type":"line","strokeWidth":3},
"encoding":{"x":{"field":"x","type":"quantitative","scale":{"domain":[-7.2,26.6],"nice":false,"zero":false},"axis":{"orient":"bottom","values":[0,10,20],"labelExpr":"datum.value===10 ? '' : datum.label","labelPadding":27,"title":null,"tickSize":{"condition":{"test":"datum.value===10","value":-7},"value":-13}}},
"color":{"field":"s","type":"nominal","scale":{"domain":["e1","e2","h1","h2","CB","VB"],"range":["#22ff22","#0a0aff","#007a00","#800080","#e00000","#e00000"]},"legend":{"values":["e1","e2","h1","h2"],"title":null,"orient":"none","legendX":921,"legendY":652,"symbolType":"stroke","symbolSize":4624,"symbolStrokeWidth":3,"labelFontSize":30,"labelOffset":8,"clipHeight":30,"rowPadding":6.5,"padding":0,"labelFont":"Liberation Sans","labelColor":"black"}},"order":{"value":null}}},
{"transform":[{"filter":"datum.p==='B1' && datum.s!=='CB' && datum.s!=='VB'"}],"mark":{"type":"line","strokeWidth":3,"interpolate":"monotone"},
"encoding":{"x":{"field":"x","type":"quantitative","scale":{"domain":[-7.2,26.6],"nice":false,"zero":false},"axis":{"orient":"top","values":[0,10,20],"labels":false,"title":null,"tickSize":{"condition":{"test":"datum.value===10","value":-7},"value":-13}}},
"color":{"field":"s","type":"nominal","scale":{"domain":["e1","e2","h1","h2","CB","VB"],"range":["#22ff22","#0a0aff","#007a00","#800080","#e00000","#e00000"]},"legend":{"values":["e1","e2","h1","h2"],"title":null,"orient":"none","legendX":921,"legendY":652,"symbolType":"stroke","symbolSize":4624,"symbolStrokeWidth":3,"labelFontSize":30,"labelOffset":8,"clipHeight":30,"rowPadding":6.5,"padding":0,"labelFont":"Liberation Sans","labelColor":"black"}},"order":{"value":null}}},
{"data":{"name":"n"},"transform":[{"filter":"datum.p==='B1' && datum.k==='head'"}],"mark":{"type":"text","align":"left","baseline":"middle","fontSize":32},
"encoding":{"x":{"field":"x","type":"quantitative","scale":{"domain":[-7.2,26.6],"nice":false,"zero":false},"axis":null},"text":{"field":"t"}}},
{"data":{"name":"n"},"transform":[{"filter":"datum.p==='B1' && (datum.k==='mid' || datum.k==='w')"}],"mark":{"type":"text","align":"center","baseline":"middle"},
"encoding":{"x":{"field":"x","type":"quantitative","scale":{"domain":[-7.2,26.6],"nice":false,"zero":false},"axis":null},"text":{"field":"t"},"size":{"condition":{"test":"datum.k==='w'","value":30},"value":32}}},
{"data":{"name":"n"},"transform":[{"filter":"datum.p==='B1' && datum.k==='brk'"}],"mark":{"type":"text","align":"center","baseline":"middle","fontSize":19},
"encoding":{"x":{"field":"x","type":"quantitative","scale":{"domain":[-7.2,26.6],"nice":false,"zero":false},"axis":null},"text":{"field":"t"}}}
],
"resolve":{"axis":{"x":"independent"}}},

{"width":350,"height":397,
"encoding":{"y":{"field":"y","type":"quantitative","scale":{"domain":[-4,1.78],"nice":false,"zero":false},"axis":null}},
"layer":[
{"transform":[{"filter":"datum.p==='B2' && (datum.s==='CB' || datum.s==='VB')"}],"mark":{"type":"line","strokeWidth":3},
"encoding":{"x":{"field":"x","type":"quantitative","scale":{"domain":[-7.4,30.3],"nice":false,"zero":false},"axis":{"orient":"bottom","values":[0,10,20],"labelExpr":"datum.value===10 ? '' : datum.label","labelPadding":27,"title":"Position (nm)","titleX":211,"titleY":57,"titleBaseline":"middle","tickSize":{"condition":{"test":"datum.value===10","value":-7},"value":-13}}},
"color":{"field":"s","type":"nominal","scale":{"domain":["e1","e2","h1","h2","CB","VB"],"range":["#22ff22","#0a0aff","#007a00","#800080","#e00000","#e00000"]},"legend":{"values":["e1","e2","h1","h2"],"title":null,"orient":"none","legendX":921,"legendY":652,"symbolType":"stroke","symbolSize":4624,"symbolStrokeWidth":3,"labelFontSize":30,"labelOffset":8,"clipHeight":30,"rowPadding":6.5,"padding":0,"labelFont":"Liberation Sans","labelColor":"black"}},"order":{"value":null}}},
{"transform":[{"filter":"datum.p==='B2' && datum.s!=='CB' && datum.s!=='VB'"}],"mark":{"type":"line","strokeWidth":3,"interpolate":"monotone"},
"encoding":{"x":{"field":"x","type":"quantitative","scale":{"domain":[-7.4,30.3],"nice":false,"zero":false},"axis":{"orient":"top","values":[0,10,20],"labels":false,"title":null,"tickSize":{"condition":{"test":"datum.value===10","value":-7},"value":-13}}},
"color":{"field":"s","type":"nominal","scale":{"domain":["e1","e2","h1","h2","CB","VB"],"range":["#22ff22","#0a0aff","#007a00","#800080","#e00000","#e00000"]},"legend":{"values":["e1","e2","h1","h2"],"title":null,"orient":"none","legendX":921,"legendY":652,"symbolType":"stroke","symbolSize":4624,"symbolStrokeWidth":3,"labelFontSize":30,"labelOffset":8,"clipHeight":30,"rowPadding":6.5,"padding":0,"labelFont":"Liberation Sans","labelColor":"black"}},"order":{"value":null}}},
{"data":{"name":"n"},"transform":[{"filter":"datum.p==='B2' && (datum.k==='mid' || datum.k==='w')"}],"mark":{"type":"text","align":"center","baseline":"middle"},
"encoding":{"x":{"field":"x","type":"quantitative","scale":{"domain":[-7.4,30.3],"nice":false,"zero":false},"axis":null},"text":{"field":"t"},"size":{"condition":{"test":"datum.k==='w'","value":30},"value":32}}},
{"data":{"name":"n"},"transform":[{"filter":"datum.p==='B2' && datum.k==='brk'"}],"mark":{"type":"text","align":"center","baseline":"middle","fontSize":19},
"encoding":{"x":{"field":"x","type":"quantitative","scale":{"domain":[-7.4,30.3],"nice":false,"zero":false},"axis":null},"text":{"field":"t"}}}
],
"resolve":{"axis":{"x":"independent"}}},

{"width":390,"height":397,
"encoding":{"y":{"field":"y","type":"quantitative","scale":{"domain":[-4,1.78],"nice":false,"zero":false},"axis":{"orient":"right","values":[-4,-3.5,-3,-2.5,-2,-1.5,-1,-0.5,0,0.5,1,1.5],"labels":false,"tickSize":{"condition":{"test":"datum.value % 1 !== 0","value":-6},"value":-12},"title":null}}},
"layer":[
{"transform":[{"filter":"datum.p==='B3' && (datum.s==='CB' || datum.s==='VB')"}],"mark":{"type":"line","strokeWidth":3},
"encoding":{"x":{"field":"x","type":"quantitative","scale":{"domain":[-9.8,32.2],"nice":false,"zero":false},"axis":{"orient":"bottom","values":[0,10,20],"labelExpr":"datum.value===10 ? '' : datum.label","labelPadding":27,"title":null,"tickSize":{"condition":{"test":"datum.value===10","value":-7},"value":-13}}},
"color":{"field":"s","type":"nominal","scale":{"domain":["e1","e2","h1","h2","CB","VB"],"range":["#22ff22","#0a0aff","#007a00","#800080","#e00000","#e00000"]},"legend":{"values":["e1","e2","h1","h2"],"title":null,"orient":"none","legendX":921,"legendY":652,"symbolType":"stroke","symbolSize":4624,"symbolStrokeWidth":3,"labelFontSize":30,"labelOffset":8,"clipHeight":30,"rowPadding":6.5,"padding":0,"labelFont":"Liberation Sans","labelColor":"black"}},"order":{"value":null}}},
{"transform":[{"filter":"datum.p==='B3' && datum.s!=='CB' && datum.s!=='VB'"}],"mark":{"type":"line","strokeWidth":3,"interpolate":"monotone"},
"encoding":{"x":{"field":"x","type":"quantitative","scale":{"domain":[-9.8,32.2],"nice":false,"zero":false},"axis":{"orient":"top","values":[0,10,20],"labels":false,"title":null,"tickSize":{"condition":{"test":"datum.value===10","value":-7},"value":-13}}},
"color":{"field":"s","type":"nominal","scale":{"domain":["e1","e2","h1","h2","CB","VB"],"range":["#22ff22","#0a0aff","#007a00","#800080","#e00000","#e00000"]},"legend":{"values":["e1","e2","h1","h2"],"title":null,"orient":"none","legendX":921,"legendY":652,"symbolType":"stroke","symbolSize":4624,"symbolStrokeWidth":3,"labelFontSize":30,"labelOffset":8,"clipHeight":30,"rowPadding":6.5,"padding":0,"labelFont":"Liberation Sans","labelColor":"black"}},"order":{"value":null}}},
{"data":{"name":"n"},"transform":[{"filter":"datum.p==='B3' && (datum.k==='mid' || datum.k==='w')"}],"mark":{"type":"text","align":"center","baseline":"middle"},
"encoding":{"x":{"field":"x","type":"quantitative","scale":{"domain":[-9.8,32.2],"nice":false,"zero":false},"axis":null},"text":{"field":"t"},"size":{"condition":{"test":"datum.k==='w'","value":30},"value":32}}}
],
"resolve":{"axis":{"x":"independent"}}}
]
}
